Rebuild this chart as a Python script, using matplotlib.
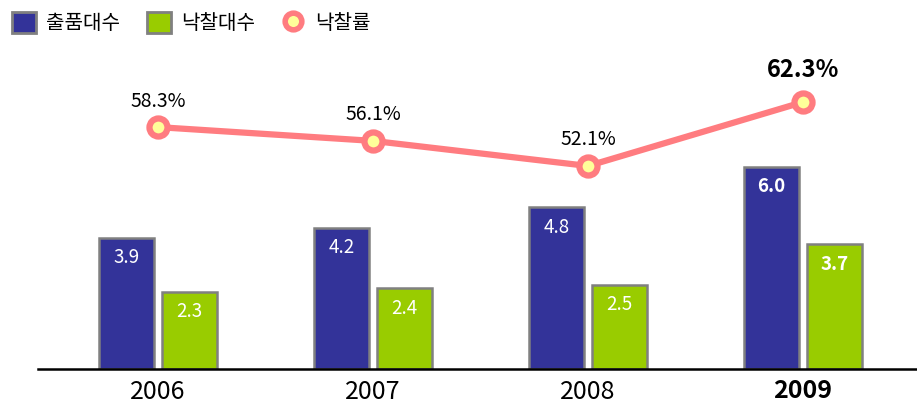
import matplotlib
matplotlib.use('Agg')
import matplotlib.pyplot as plt
import numpy as np
from matplotlib.patches import Patch
from matplotlib.lines import Line2D

plt.rcParams['font.family'] = ['Noto Sans CJK KR', 'DejaVu Sans']

years = ['2006', '2007', '2008', '2009']
listed = [3.9, 4.2, 4.8, 6.0]     # 출품대수
sold = [2.3, 2.4, 2.5, 3.7]       # 낙찰대수
rate = [58.3, 56.1, 52.1, 62.3]   # 낙찰률 (%)
labels = ['출품대수', '낙찰대수', '낙찰률']

blue = '#333399'
green = '#99CC00'
edge = '#808080'
pink = '#FF7C80'
yellow = '#FFFF99'


def draw():
    fig = plt.figure(figsize=(9.17, 4.09), dpi=100)
    ax = fig.add_axes([38 / 917, 40 / 409, 1 - 38 / 917, 329 / 409])

    x = np.arange(len(years))
    w = 0.256
    off = 0.1465
    b1 = ax.bar(x - off, listed, w, color=blue, edgecolor=edge, linewidth=1.8)
    b2 = ax.bar(x + off, sold, w, color=green, edgecolor=edge, linewidth=1.8)

    last = len(years) - 1
    for bars, vals in ((b1, listed), (b2, sold)):
        for i, (r, v) in enumerate(zip(bars, vals)):
            ax.annotate(f'{v:.1f}', (r.get_x() + r.get_width() / 2, v),
                        xytext=(0, -20), textcoords='offset pixels',
                        ha='center', va='center', color='white', fontsize=13.5,
                        fontweight='bold' if i == last else 'normal')

    ax.set_xlim(-0.558, 3.53)
    ax.set_ylim(0, 9.77)
    for s in ('top', 'right', 'left'):
        ax.spines[s].set_visible(False)
    ax.spines['bottom'].set_linewidth(1.8)
    ax.spines['bottom'].set_color('black')
    ax.spines['bottom'].set_zorder(5)
    ax.set_yticks([])
    ax.set_xticks(x, years, fontsize=18)
    ax.tick_params(axis='x', length=0, pad=7)
    ax.get_xticklabels()[last].set_fontweight('bold')

    ax2 = ax.twinx()
    ax2.set_ylim(19.7, 72.2)
    ax2.set_yticks([])
    for s in ax2.spines.values():
        s.set_visible(False)
    ax2.plot(x, rate, color=pink, linewidth=4.5, marker='o', markersize=13,
             markerfacecolor=yellow, markeredgecolor=pink, markeredgewidth=4.5,
             solid_capstyle='round')
    for i, v in enumerate(rate):
        big = i == last
        ax2.annotate(f'{v:.1f}%', (x[i], v), xytext=(0, 32 if big else 26),
                     textcoords='offset pixels', ha='center', va='center',
                     fontsize=17 if big else 14,
                     fontweight='bold' if big else 'normal')

    handles = [Patch(facecolor=blue, edgecolor=edge, linewidth=2),
               Patch(facecolor=green, edgecolor=edge, linewidth=2),
               Line2D([], [], linestyle='None', marker='o', markersize=12,
                      markerfacecolor=yellow, markeredgecolor=pink,
                      markeredgewidth=4)]
    fig.legend(handles, labels, loc='upper left', bbox_to_anchor=(0.0, 1.0),
               ncol=3, frameon=False, fontsize=14.5, handlelength=1.2,
               handleheight=1.2, handletextpad=0.5, columnspacing=1.3,
               borderaxespad=0.2)

    fig.savefig('out.png', dpi=100)


if __name__ == '__main__':
    draw()
